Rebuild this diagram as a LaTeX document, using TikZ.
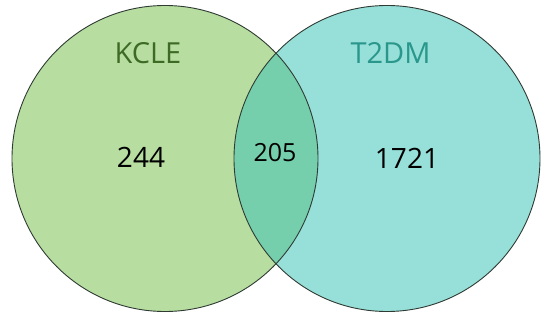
\documentclass[tikz,border=0pt]{standalone}
\usepackage{fontspec}
\setmainfont{Open Sans}
\definecolor{kgreen}{HTML}{B7DEA0}
\definecolor{tteal}{HTML}{97E0D9}
\definecolor{lens}{HTML}{75CEAC}
\definecolor{ktext}{HTML}{3D6B25}
\definecolor{ttext}{HTML}{2A978C}
\definecolor{edge}{HTML}{2F3B33}
\tikzset{
  setlabel/.style={font=\fontsize{29}{31}\selectfont, inner sep=0pt, anchor=center},
  countlabel/.style={font=\fontsize{28}{30}\selectfont, inner sep=0pt, anchor=center, text=black},
  outline/.style={draw=edge, line width=0.9pt}
}
\begin{document}
\begin{tikzpicture}[x=1pt,y=-1pt]
\useasboundingbox (0,0) rectangle (550,321);
\fill[white] (0,0) rectangle (550,321);
\coordinate (cl) at (165,158.5);
\coordinate (cr) at (387,158.5);
\fill[kgreen] (cl) circle[radius=153];
\fill[tteal] (cr) circle[radius=153];
\begin{scope}
  \clip (cl) circle[radius=153];
  \fill[lens] (cr) circle[radius=153];
\end{scope}
\draw[outline] (cl) circle[radius=153];
\draw[outline] (cr) circle[radius=153];
\node[setlabel, text=ktext] (kcle) at (148,52.8) {KCLE};
\node[setlabel, text=ttext] (t2dm) at (390.5,53) {T2DM};
\node[countlabel] (a) at (141,157.5) {244};
\node[countlabel, font=\fontsize{25}{27}\selectfont] (b) at (275,152.3) {205};
\node[countlabel] (c) at (407,158) {1721};
\end{tikzpicture}
\end{document}
